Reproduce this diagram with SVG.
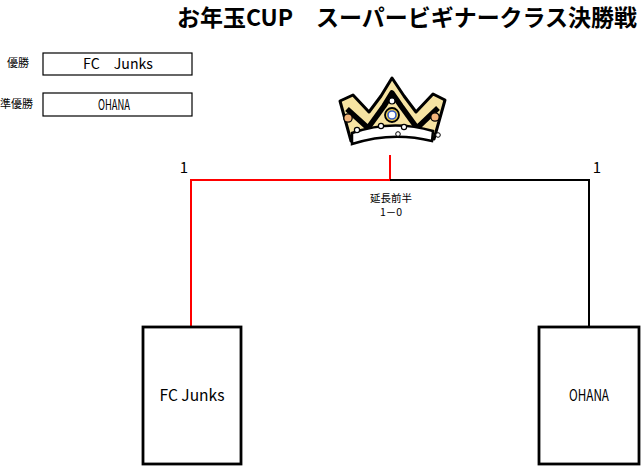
<svg xmlns="http://www.w3.org/2000/svg" width="643" height="476" viewBox="0 0 643 476">
<style>
text{font-family:"Noto Sans CJK JP","Noto Sans",sans-serif;fill:#000}
.title{font-size:23px;font-weight:bold}
.lbl{font-size:11px}
.small{font-size:14px}
.team{font-size:16px}
.score{font-size:15px}
.note{font-size:10.5px}
.rbox{fill:#fff;stroke:#000;stroke-width:1.2}
.tbox{fill:#fff;stroke:#000;stroke-width:2.8}
.win{fill:none;stroke:#f00;stroke-width:2}
.lose{fill:none;stroke:#000;stroke-width:2}
</style>
<rect width="643" height="476" fill="#fff"/>
<text class="title" x="407" y="26" text-anchor="middle" textLength="460" lengthAdjust="spacingAndGlyphs">お年玉CUP　スーパービギナークラス決勝戦</text>

<g id="result-winner">
<text class="lbl" x="7" y="67">優勝</text>
<rect class="rbox" x="43" y="53" width="149" height="22"/>
<text class="small" x="118" y="69" text-anchor="middle" xml:space="preserve" textLength="70" lengthAdjust="spacingAndGlyphs">FC　Junks</text>
</g>
<g id="result-runnerup">
<text class="lbl" x="0" y="108">準優勝</text>
<rect class="rbox" x="43" y="93" width="149" height="23"/>
<text class="small" x="114" y="110" text-anchor="middle" textLength="32" lengthAdjust="spacingAndGlyphs">OHANA</text>
</g>

<g id="crown">
<path d="M340,101 L353,95 L369,112 L381,96 L392,78 L404,96 L416,112 L433,94 L445,100 L434,139 Q392,129 351,141 Z" fill="#f6e3a2" stroke="#000" stroke-width="3" stroke-linejoin="round"/>
<path d="M347,109 L368,128 L384,106 L392,93 L401,106 L417,128 L438,108" fill="none" stroke="#000" stroke-width="5.5" stroke-linejoin="round"/>
<path d="M352,133 Q392,119 433,131 L432,141 Q392,131 352,144 Z" fill="#fff" stroke="#000" stroke-width="2.5"/>
<circle cx="392" cy="115" r="7" fill="#f3d24a" stroke="#000" stroke-width="1.8"/>
<circle cx="392" cy="115" r="4" fill="#fff" stroke="#3a5fc8" stroke-width="1.6"/>
<circle cx="392" cy="101" r="3" fill="#fff" stroke="#000" stroke-width="1.2"/>
<circle cx="381" cy="126" r="2.6" fill="#fff" stroke="#000" stroke-width="1.2"/>
<circle cx="404" cy="127" r="2.6" fill="#fff" stroke="#000" stroke-width="1.2"/>
<circle cx="398" cy="134" r="2.3" fill="#fff" stroke="#000" stroke-width="1"/>
<circle cx="357" cy="130" r="2.6" fill="#fff" stroke="#000" stroke-width="1.2"/>
<circle cx="438" cy="135" r="2.3" fill="#fff" stroke="#000" stroke-width="1"/>
<circle cx="348" cy="118" r="4.2" fill="#f4b57a" stroke="#000" stroke-width="1.3"/>
<circle cx="435" cy="117" r="4.2" fill="#f4b57a" stroke="#000" stroke-width="1.3"/>
</g>

<g id="connectors">
<polyline class="win" points="191,327 191,180 390,180"/>
<line class="win" x1="390" y1="155" x2="390" y2="180"/>
<polyline class="lose" points="390,180 589,180 589,327"/>
</g>

<g id="scores">
<text class="score" x="184" y="173" text-anchor="middle">1</text>
<text class="score" x="597" y="173" text-anchor="middle">1</text>
<text class="note" x="391" y="202" text-anchor="middle">延長前半</text>
<text class="note" x="391" y="216" text-anchor="middle">1－0</text>
</g>

<g id="team-fc-junks">
<rect class="tbox" x="143" y="327" width="98" height="137"/>
<text class="team" x="192" y="401" text-anchor="middle" textLength="65" lengthAdjust="spacingAndGlyphs">FC Junks</text>
</g>
<g id="team-ohana">
<rect class="tbox" x="539" y="327" width="100" height="137"/>
<text class="team" x="589" y="401" text-anchor="middle" textLength="40" lengthAdjust="spacingAndGlyphs">OHANA</text>
</g>
</svg>
